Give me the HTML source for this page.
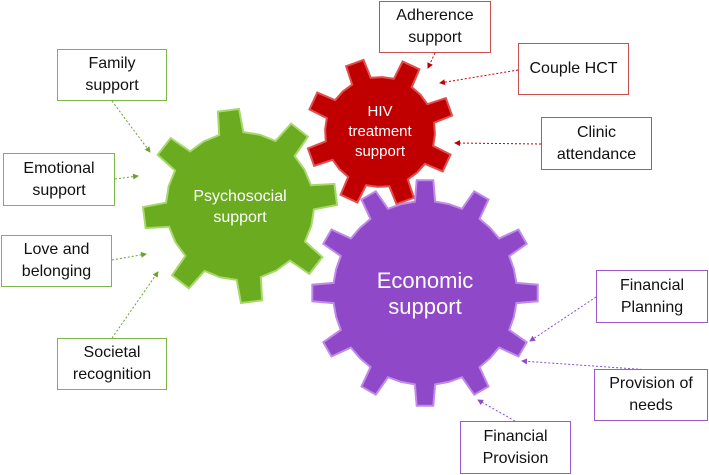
<!DOCTYPE html>
<html><head><meta charset="utf-8"><style>
body{margin:0;background:#fff;width:709px;height:475px;overflow:hidden;font-family:"Liberation Sans",sans-serif}
.b{position:absolute;background:#fff;box-sizing:border-box;display:flex;align-items:center;justify-content:center;text-align:center;font-size:16px;line-height:22px;color:#111}
.g{border:1.5px solid #7ab648}.r{border:1.5px solid #c9504f}.p{border:1.5px solid #9b59c9}
</style></head><body>
<svg id="s" width="709" height="475" style="position:absolute;left:0;top:0">
<defs>
<marker id="mg" markerWidth="6" markerHeight="6" refX="5" refY="3" orient="auto"><path d="M0,0L6,3L0,6z" fill="#6aa332"/></marker>
<marker id="mr" markerWidth="6" markerHeight="6" refX="5" refY="3" orient="auto"><path d="M0,0L6,3L0,6z" fill="#c00000"/></marker>
<marker id="mp" markerWidth="6" markerHeight="6" refX="5" refY="3" orient="auto"><path d="M0,0L6,3L0,6z" fill="#8e4cc8"/></marker>
</defs>
<g id="gears"></g>
<g stroke-width="1" stroke-dasharray="2,2" fill="none">
<line x1="112" y1="101" x2="150" y2="152" stroke="#6aa332" marker-end="url(#mg)"/>
<line x1="115" y1="179" x2="138" y2="176" stroke="#6aa332" marker-end="url(#mg)"/>
<line x1="112" y1="260" x2="146" y2="254" stroke="#6aa332" marker-end="url(#mg)"/>
<line x1="112" y1="338" x2="158" y2="272" stroke="#6aa332" marker-end="url(#mg)"/>
<line x1="435" y1="53" x2="428" y2="68" stroke="#c00000" marker-end="url(#mr)"/>
<line x1="518" y1="70" x2="440" y2="83" stroke="#c00000" marker-end="url(#mr)"/>
<line x1="541" y1="144" x2="455" y2="143" stroke="#c00000" marker-end="url(#mr)"/>
<line x1="596" y1="297" x2="530" y2="341" stroke="#8e4cc8" marker-end="url(#mp)"/>
<line x1="650" y1="370" x2="522" y2="361" stroke="#8e4cc8" marker-end="url(#mp)"/>
<line x1="515" y1="421" x2="478" y2="400" stroke="#8e4cc8" marker-end="url(#mp)"/>
</g>
<g fill="#fff" text-anchor="middle" font-family="Liberation Sans, sans-serif">
<text x="240" y="201" font-size="16">Psychosocial</text><text x="240" y="222" font-size="16">support</text>
<text x="380" y="116" font-size="15">HIV</text><text x="380" y="136" font-size="15">treatment</text><text x="380" y="156" font-size="15">support</text>
<text x="425" y="288" font-size="22">Economic</text><text x="425" y="314" font-size="22">support</text>
</g>
</svg>
<div class="b g" style="left:57px;top:49px;width:110px;height:52px">Family<br>support</div>
<div class="b g" style="left:3px;top:153px;width:112px;height:53px">Emotional<br>support</div>
<div class="b g" style="left:1px;top:235px;width:111px;height:52px">Love and<br>belonging</div>
<div class="b g" style="left:57px;top:338px;width:110px;height:52px">Societal<br>recognition</div>
<div class="b r" style="left:379px;top:1px;width:112px;height:52px">Adherence<br>support</div>
<div class="b r" style="left:518px;top:43px;width:111px;height:52px">Couple HCT</div>
<div class="b r" style="left:541px;top:117px;width:111px;height:53px">Clinic<br>attendance</div>
<div class="b p" style="left:596px;top:270px;width:112px;height:53px">Financial<br>Planning</div>
<div class="b p" style="left:594px;top:369px;width:114px;height:52px">Provision of<br>needs</div>
<div class="b p" style="left:460px;top:421px;width:111px;height:53px">Financial<br>Provision</div>
<script>
function gear(cx,cy,ro,ri,n,rot,fill,stroke,w){
 var d="",step=2*Math.PI/n;
 for(var i=0;i<n;i++){
  var a=rot+i*step;
  var pts=[[ri,a-step*(w+0.07)],[ro,a-step*w],[ro,a+step*w],[ri,a+step*(w+0.07)],[ri,a+step*0.5]];
  pts.forEach(function(p,j){var x=cx+p[0]*Math.cos(p[1]),y=cy+p[0]*Math.sin(p[1]);d+=(i==0&&j==0?"M":"L")+x.toFixed(1)+","+y.toFixed(1);});
 }
 d+="Z";
 var p=document.createElementNS("http://www.w3.org/2000/svg","path");
 p.setAttribute("d",d);p.setAttribute("fill",fill);p.setAttribute("stroke",stroke);p.setAttribute("stroke-width","2");
 document.getElementById("gears").appendChild(p);
}
gear(240,206,97,74,8,-Math.PI/2-0.12,"#6aab1f","#a6d86a",0.14);
gear(380,132,74,55,8,-Math.PI/2-0.35,"#c00000","#e05050",0.16);
gear(425,293,113,92,12,-Math.PI/2,"#8e48c8","#c08ae8",0.14);
</script>
</body></html>
